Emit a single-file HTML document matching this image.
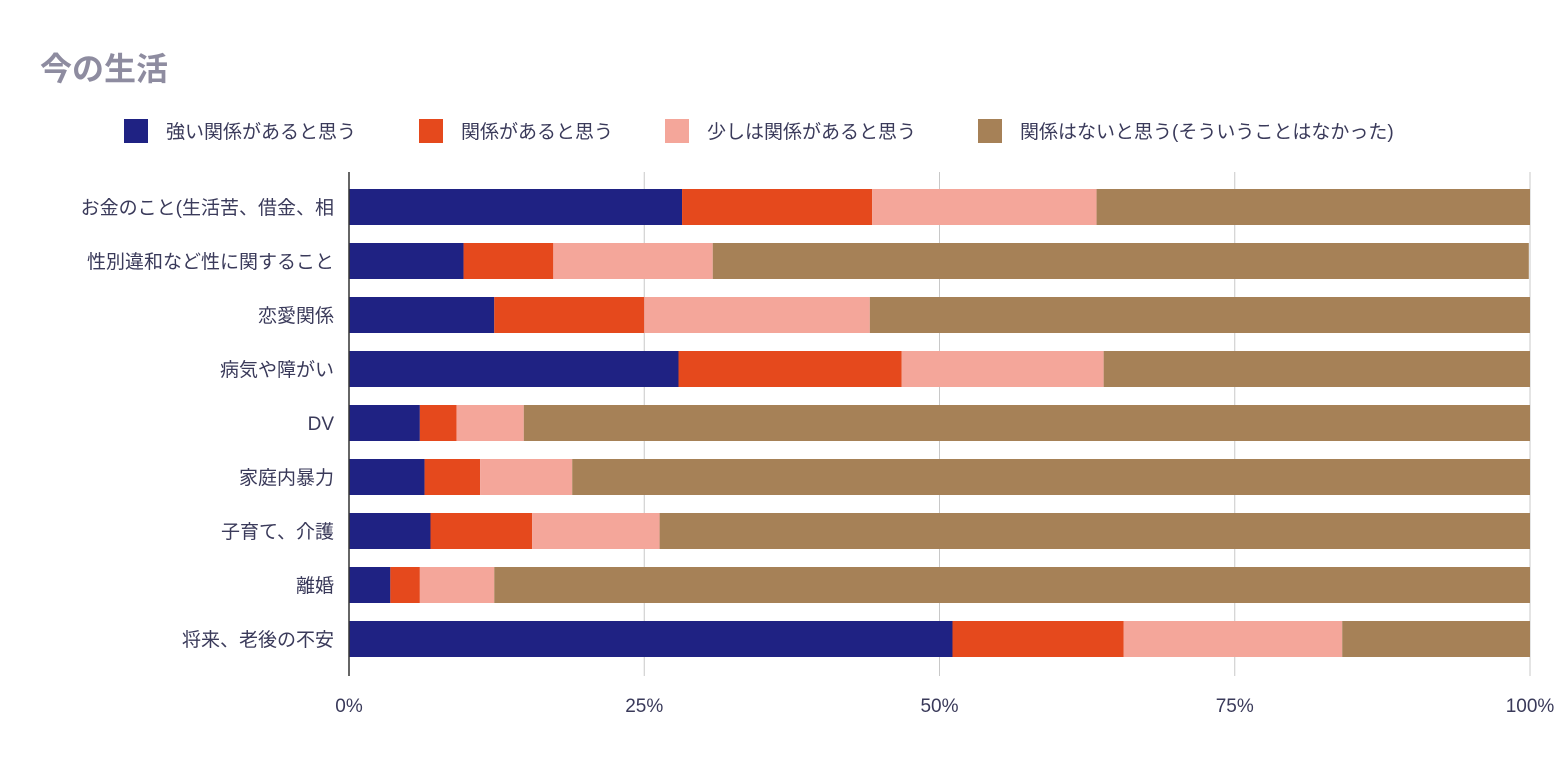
<!DOCTYPE html>
<html><head><meta charset="utf-8"><style>
body{margin:0;background:#fff;font-family:"Liberation Sans","Noto Sans CJK JP",sans-serif;}
svg text{font-family:"Liberation Sans","Noto Sans CJK JP",sans-serif;}
</style></head><body>
<svg id="chart" width="1568" height="758" xmlns="http://www.w3.org/2000/svg">
<text x="40" y="80" font-size="32" font-weight="bold" fill="#8e8ca0">今の生活</text>
<g id="legend"></g>
<g id="grid"></g>
<g id="bars"></g>
<g id="ylabels"></g>
<g id="xlabels"></g>
<line x1="349" y1="172" x2="349" y2="676" stroke="#333" stroke-width="1.5"/>
</svg>
<script>
const categories=["お金のこと(生活苦、借金、相","性別違和など性に関すること","恋愛関係","病気や障がい","DV","家庭内暴力","子育て、介護","離婚","将来、老後の不安"];
const seriesNames=["強い関係があると思う","関係があると思う","少しは関係があると思う","関係はないと思う(そういうことはなかった)"];
const strong=[28.2,9.7,12.3,27.9,6.0,6.4,6.9,3.5,51.1];
const related=[16.1,7.6,12.7,18.9,3.1,4.7,8.6,2.5,14.5];
const little=[19.0,13.5,19.1,17.1,5.7,7.8,10.8,6.3,18.5];
const none=[36.7,69.1,55.9,36.1,85.2,81.1,73.7,87.7,15.9];
const tickLabels=["0%","25%","50%","75%","100%"];
const tickValues=[0,25,50,75,100];
const colors=["#1f2283","#e5491d","#f4a69a","#a68157"];
const NS="http://www.w3.org/2000/svg";
const x0=349,x1=1530,topY=180,step=54,bh=36;
const xs=v=>x0+(x1-x0)*v/100;
const yc=i=>topY+step*i+step/2;
function mk(t,a,p){const e=document.createElementNS(NS,t);for(const k in a)e.setAttribute(k,a[k]);p.appendChild(e);return e;}
const grid=document.getElementById('grid'),xl=document.getElementById('xlabels');
tickValues.forEach((v,i)=>{
 if(i>0){const l=mk('line',{x1:xs(v),x2:xs(v),y1:172,y2:676,stroke:'#c8c8c8','stroke-width':1},grid);
 
 }
 const t=mk('text',{x:xs(v),y:712,'font-size':19,fill:'#3a3a5a','text-anchor':'middle'},xl);
 t.textContent=tickLabels[i];
 
 
});
const series=[strong,related,little,none];
const bars=document.getElementById('bars'),yl=document.getElementById('ylabels');
categories.forEach((c,i)=>{
 let acc=0;
 series.forEach((s,j)=>{
  const r=mk('rect',{x:xs(acc),y:yc(i)-bh/2,width:xs(acc+s[i])-xs(acc),height:bh,fill:colors[j]},bars);
  
  
  acc+=s[i];
 });
 const t=mk('text',{x:334,y:yc(i)+7,'font-size':19,fill:'#3a3a5a','text-anchor':'end'},yl);
 t.textContent=c;
 
 
});
const lg=document.getElementById('legend');
const lx=[124,419,665,978];
seriesNames.forEach((n,i)=>{
 const r=mk('rect',{x:lx[i],y:119,width:24,height:24,fill:colors[i]},lg);
 
 
 const t=mk('text',{x:lx[i]+42,y:138,'font-size':19,fill:'#3a3a5a'},lg);
 t.textContent=n;
 
 
});
</script>
</body></html>
